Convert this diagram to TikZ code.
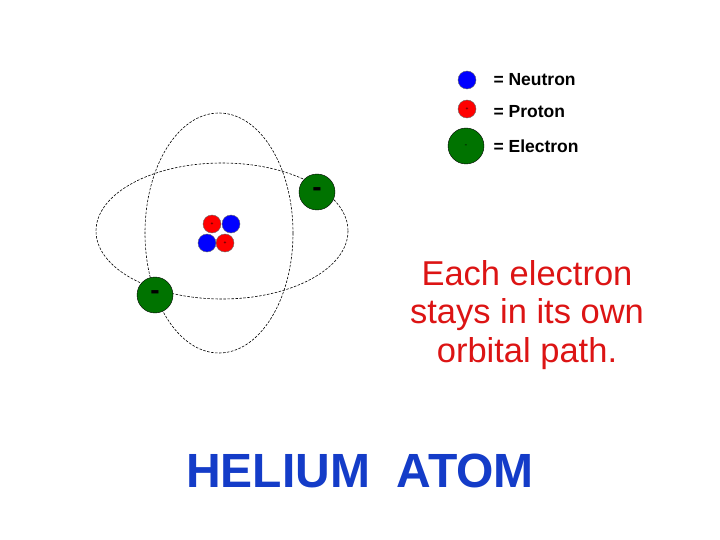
\documentclass[tikz,border=0pt]{standalone}
\usepackage{fontspec}
\setmainfont{Liberation Sans}
\definecolor{titleblue}{RGB}{20,60,200}
\definecolor{msgred}{RGB}{220,20,20}
\begin{document}
\begin{tikzpicture}[x=1pt,y=-1pt,
  orbit/.style={draw=black,dashed,dash pattern=on 2.5pt off 1.5pt,line width=0.6pt},
  neutron/.style={circle,draw=black!60,fill=blue,minimum size=18pt,inner sep=0pt},
  proton/.style={circle,draw=black!60,fill=red,minimum size=18pt,inner sep=0pt,font=\fontsize{5}{5}\selectfont},
  electron/.style={circle,draw=black,fill=green!45!black,minimum size=36pt,inner sep=0pt,font=\bfseries\fontsize{28}{28}\selectfont},
  legend/.style={anchor=west,font=\bfseries\fontsize{17.5}{17.5}\selectfont}]
\useasboundingbox (0,0) rectangle (720,540);
\draw[orbit] (222,231) ellipse [x radius=126, y radius=68];
\draw[orbit] (219,233) ellipse [x radius=74, y radius=120];
\node[proton] (p1) at (212,224) {+};
\node[neutron] (n1) at (231,224) {};
\node[neutron] (n2) at (207,243) {};
\node[proton] (p2) at (225,243) {+};
\node[electron] (e1) at (317,192) {-};
\node[electron] (e2) at (155,295) {-};
\node[neutron] (ln) at (467,80) {};
\node[proton] (lp) at (467,109) {+};
\node[electron,font=\fontsize{8}{8}\selectfont] (le) at (466,146) {-};
\node[legend] (tn) at (490,80) {= Neutron};
\node[legend] (tp) at (490,112) {= Proton};
\node[legend] (te) at (490,146) {= Electron};
\node[text=msgred,font=\fontsize{34.5}{38.5}\selectfont,align=center] (msg) at (527,315) {Each electron\\stays in its own\\orbital path.};
\node[text=titleblue,font=\bfseries\fontsize{48}{48}\selectfont] (title) at (360,471) {HELIUM\ \ ATOM};
\end{tikzpicture}
\end{document}
